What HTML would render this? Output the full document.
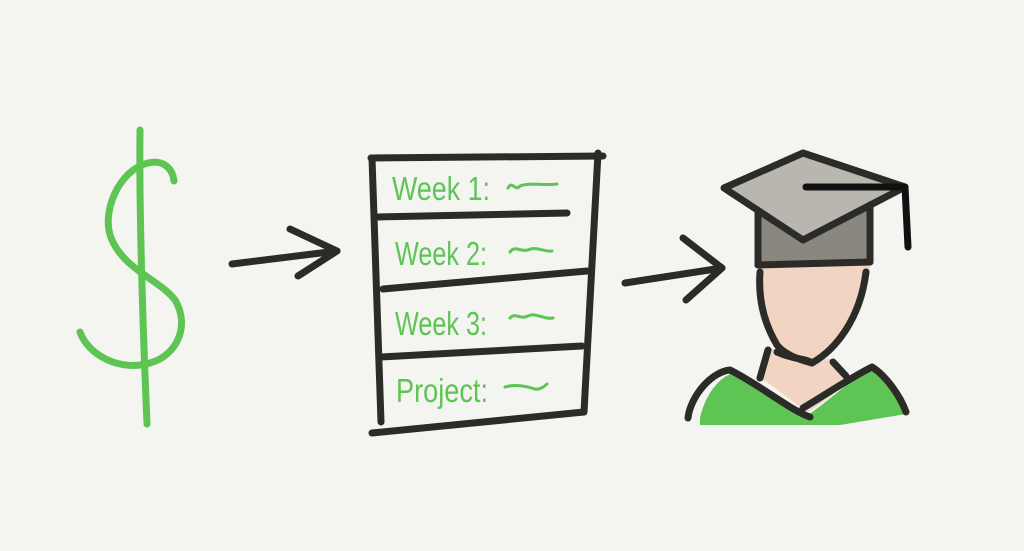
<!DOCTYPE html>
<html><head><meta charset="utf-8"><style>
html,body{margin:0;padding:0;background:#f4f4f0;}
svg{display:block}
text{font-family:"Liberation Sans",sans-serif;fill:#5ec454;}
</style></head><body>
<svg width="1024" height="551" viewBox="0 0 1024 551" xmlns="http://www.w3.org/2000/svg">
<rect width="1024" height="551" fill="#f4f4f0"/>
<!-- dollar -->
<g fill="none" stroke="#5ec454" stroke-width="7" stroke-linecap="round" stroke-linejoin="round">
<path d="M140,130 C139,220 143,330 147,424"/>
<path d="M174,181 C172,165 160,160 148,163 C118,170 100,215 112,240 C125,270 160,280 175,300 C190,325 178,355 150,363 C120,372 88,355 80,332"/>
</g>
<!-- arrows -->
<g fill="none" stroke="#2b2b28" stroke-width="7" stroke-linecap="round" stroke-linejoin="round">
<path d="M232,264 L337,251"/><path d="M290,229 L337,251 L298,276"/>
<path d="M625,283 L722,268"/><path d="M683,238 L722,268 L686,300"/>
</g>
<!-- list -->
<g fill="none" stroke="#2b2b28" stroke-width="7" stroke-linecap="round">
<path d="M372,158 L381,422"/>
<path d="M598,153 L584,412"/>
<path d="M371,158 L603,156"/>
<path d="M378,217 L567,213"/>
<path d="M383,289 L587,271"/>
<path d="M380,357 L582,346"/>
<path d="M372,433 L584,412"/>
</g>
<g font-size="33">
<text x="392" y="200" textLength="98" lengthAdjust="spacingAndGlyphs">Week 1:</text>
<text x="395" y="265" textLength="92" lengthAdjust="spacingAndGlyphs">Week 2:</text>
<text x="395" y="335" textLength="92" lengthAdjust="spacingAndGlyphs">Week 3:</text>
<text x="396" y="402" textLength="92" lengthAdjust="spacingAndGlyphs">Project:</text>
</g>
<g fill="none" stroke="#5ec454" stroke-width="3" stroke-linecap="round">
<path d="M508,188 C512,180 515,192 520,186 C530,182 545,186 557,184"/>
<path d="M510,252 C515,245 520,252 528,250 C535,246 545,252 552,251"/>
<path d="M510,318 C515,312 520,320 528,316 C535,312 545,320 553,318"/>
<path d="M505,387 C515,384 525,386 535,389 C540,390 545,386 547,384"/>
</g>
<!-- graduate -->
<path d="M700,418 C705,395 720,375 735,373 C760,385 790,410 808,415 C830,400 850,380 872,368 C890,380 900,400 906,414 L840,425 L700,425 Z" fill="#5ec454"/>
<path d="M768,348 L760,378 C780,390 795,405 808,412 C830,398 845,385 850,378 L834,360 Z" fill="#f1d5c2"/>
<path d="M758,264 L870,262 C868,300 860,330 812,363 C795,360 780,350 777,345 C765,320 758,290 758,264Z" fill="#f1d5c2"/>
<path d="M758,212 L870,205 L870,264 L758,265 Z" fill="#8a8780"/>
<path d="M724,188 L803,153 L905,187 L803,240 Z" fill="#b8b6ae"/>
<g fill="none" stroke="#2b2b28" stroke-width="7" stroke-linecap="round" stroke-linejoin="round">
<path d="M724,188 L803,153 L905,187 L803,240 Z"/>
<path d="M758,212 L758,265"/><path d="M870,205 L870,262"/>
<path d="M758,265 L870,262"/>
<path d="M760,272 C758,300 765,325 777,345 C785,355 800,360 812,363 C835,350 860,320 866,272"/>
<path d="M777,352 C795,360 805,358 812,363"/>
<path d="M768,350 L760,378"/><path d="M833,362 L846,376"/>
<path d="M688,418 C690,398 710,372 730,370 C760,385 790,410 810,417"/>
<path d="M803,408 C825,395 850,378 872,367 C885,375 900,395 906,412"/>
</g>
<path d="M806,187 L905,187 L908,247" fill="none" stroke="#111" stroke-width="7" stroke-linecap="round" stroke-linejoin="round"/>
</svg>
</body></html>
